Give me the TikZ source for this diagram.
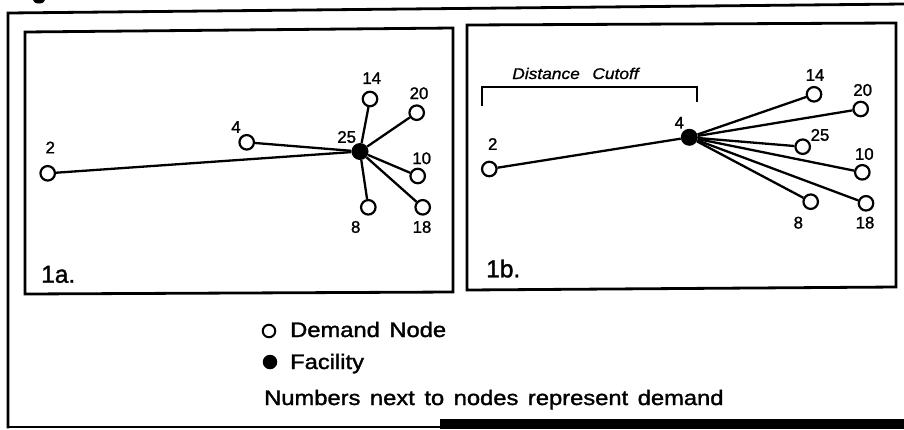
\documentclass[tikz,border=0pt]{standalone}
\usepackage{fontspec}
\setmainfont{Liberation Sans}[FakeBold=1.4]
\newfontfamily\legendfont{Liberation Sans}[FakeStretch=1.13, WordSpace=1.45, FakeBold=1.5]
\newfontfamily\cutofffont{Liberation Sans}[FakeStretch=1.12, WordSpace=2.6, FakeBold=1.0]
\begin{document}
\begin{tikzpicture}[x=1pt, y=-1pt,
  link/.style={line width=2.3pt},
  demand/.style={circle, draw, line width=2.2pt, fill=white, minimum size=14.5pt, inner sep=0pt},
  facility/.style={circle, fill=black, minimum size=17pt, inner sep=0pt},
  num/.style={inner sep=0pt, font=\fontsize{16.8}{16.8}\selectfont},
  panelname/.style={inner sep=0pt, anchor=base west, font=\fontsize{24.5}{24.5}\selectfont},
  legendtext/.style={inner sep=0pt, anchor=base west, font=\fontsize{21}{21}\legendfont},
  frame/.style={line width=2.8pt, line join=miter, line cap=rect}]
\useasboundingbox (0,0) rectangle (904,429);
\fill[white] (0,0) rectangle (904,429);

% remains of the caption above the figure
\fill (39,0) ellipse (6 and 3.5);

% outer frame
\draw[frame] (8,427) -- (8,13) -- (904,4);
\draw[line width=2.4pt] (8,427) -- (440,427);
\fill (440,419) rectangle (904,429);

% panel frames
\draw[frame] (25,32) -- (453,28) -- (453,292) -- (25,294) -- cycle;
\draw[frame] (467,25) -- (896,23) -- (896,287) -- (467,290) -- cycle;

% ---------- panel 1a ----------
\node[facility] (fa) at (360,151.5) {};
\node[demand] (a2)  at (47.7,173.3) {};
\node[demand] (a4)  at (246.7,142.3) {};
\node[demand] (a14) at (370,99) {};
\node[demand] (a20) at (416.7,112.7) {};
\node[demand] (a10) at (417.7,176) {};
\node[demand] (a18) at (422.7,207.3) {};
\node[demand] (a8)  at (368.3,207.3) {};
\foreach \n in {a2,a4,a14,a20,a10,a18,a8} \draw[link] (fa) -- (\n);

\node[num] (la2)  at (50.3,147.5) {2};
\node[num] (la4)  at (236,127) {4};
\node[num] (la25) at (346.7,137) {25};
\node[num] (la14) at (371.7,78.2) {14};
\node[num] (la20) at (419,93.3) {20};
\node[num] (la10) at (421.7,158.3) {10};
\node[num] (la8)  at (355.7,227) {8};
\node[num] (la18) at (422,227) {18};
\node[panelname] (na) at (41,282.7) {1a.};

% ---------- panel 1b ----------
\node[facility] (fb) at (689.3,137.3) {};
\node[demand] (b2)  at (489.3,169) {};
\node[demand] (b14) at (814,94.3) {};
\node[demand] (b20) at (860.7,109) {};
\node[demand] (b25) at (802.7,146.7) {};
\node[demand] (b10) at (862.3,172.3) {};
\node[demand] (b18) at (866,203.3) {};
\node[demand] (b8)  at (810.7,201.7) {};
\foreach \n in {b2,b14,b20,b25,b10,b18,b8} \draw[link] (fb) -- (\n);

\node[num] (lb2)  at (492.7,144) {2};
\node[num] (lb4)  at (679.3,122.7) {4};
\node[num] (lb14) at (815,75) {14};
\node[num] (lb20) at (862.7,90) {20};
\node[num] (lb25) at (820,135) {25};
\node[num] (lb10) at (864.3,154) {10};
\node[num] (lb8)  at (798.3,222.7) {8};
\node[num] (lb18) at (865,222.7) {18};
\node[panelname] (nb) at (486,277.3) {1b.};

% distance cutoff bracket
\coordinate (cl) at (481.7,106);
\coordinate (cr) at (697,101.7);
\draw[line width=1.9pt] (cl) -- (481.7,87.3) -- (697,87.3) -- (cr);
\node[inner sep=0pt, anchor=base, font=\fontsize{15.5}{15.5}\cutofffont\itshape] (cut) at (575.5,79) {Distance Cutoff};

% ---------- legend ----------
\node[demand, minimum size=12.5pt, line width=2pt] (kd) at (269,331) {};
\node[legendtext] (kdt) at (290,337) {Demand Node};
\node[facility, minimum size=14.5pt] (kf) at (270,362) {};
\node[legendtext] (kft) at (290,369) {Facility};
\node[legendtext] (kn) at (264,405) {Numbers next to nodes represent demand};
\end{tikzpicture}
\end{document}
